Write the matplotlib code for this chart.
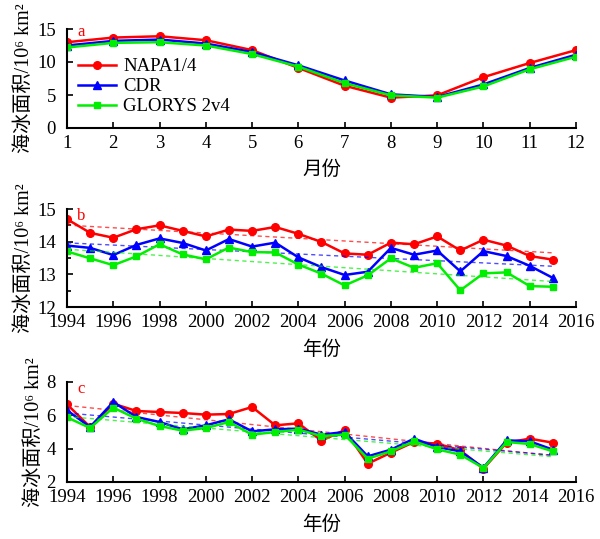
import numpy as np
import matplotlib
matplotlib.use("Agg")
import matplotlib.pyplot as plt

plt.rcParams['font.family'] = ['Liberation Serif', 'Noto Sans CJK SC']

# panel a: monthly climatology
months = np.arange(1, 13)
napa_month = [13.0, 13.7, 13.9, 13.3, 11.8, 9.1, 6.4, 4.6, 4.95, 7.7, 9.85, 11.8]
cdr_month = [12.5, 13.2, 13.4, 12.8, 11.5, 9.5, 7.2, 5.1, 4.7, 6.6, 9.1, 11.1]
glorys_month = [12.2, 12.9, 13.0, 12.5, 11.2, 9.3, 6.8, 4.95, 4.6, 6.3, 8.9, 10.8]

# panel b: yearly (first series of annual values)
years = np.arange(1994, 2016)
napa_b = [14.69, 14.27, 14.12, 14.38, 14.50, 14.33, 14.16, 14.37, 14.33, 14.45, 14.24,
          13.99, 13.64, 13.60, 13.97, 13.92, 14.16, 13.73, 14.06, 13.88, 13.56, 13.45]
cdr_b = [13.88, 13.81, 13.59, 13.90, 14.10, 13.96, 13.73, 14.08, 13.85, 13.97, 13.52,
         13.22, 12.98, 13.08, 13.81, 13.60, 13.73, 13.09, 13.71, 13.56, 13.26, 12.89]
glorys_b = [13.70, 13.49, 13.28, 13.55, 13.92, 13.61, 13.46, 13.82, 13.68, 13.67, 13.30,
            13.02, 12.66, 12.97, 13.49, 13.20, 13.34, 12.51, 13.03, 13.06, 12.64, 12.62]

# panel c: yearly (second series)
napa_c = [6.66, 5.30, 6.70, 6.26, 6.20, 6.14, 6.04, 6.08, 6.50, 5.40, 5.52,
          4.48, 5.12, 3.10, 3.76, 4.40, 4.30, 3.90, 2.80, 4.36, 4.60, 4.36]
cdr_c = [6.30, 5.30, 6.80, 5.90, 5.60, 5.16, 5.40, 5.76, 5.04, 5.16, 5.20,
         4.84, 5.00, 3.54, 3.94, 4.60, 4.10, 3.84, 2.86, 4.50, 4.44, 3.94]
glorys_c = [5.88, 5.24, 6.46, 5.80, 5.36, 5.08, 5.24, 5.60, 4.84, 5.00, 5.14,
            4.76, 4.84, 3.40, 3.84, 4.44, 3.96, 3.64, 2.84, 4.40, 4.28, 3.84]

labels = ['NAPA1/4', 'CDR', 'GLORYS 2v4']
colors = ['#ff0000', '#0000ff', '#00ee00']
markers = ['o', '^', 's']
msizes = [5.5, 6, 4.5]

ylab = u'海冰面积/10\u2076 km\u00b2'

fig = plt.figure(figsize=(6.0, 5.39), dpi=100)
W = 509 / 600.0
L = 67 / 600.0
ax_a = fig.add_axes([L, 1 - 128 / 539.0, W, 99 / 539.0])
ax_b = fig.add_axes([L, 1 - 307 / 539.0, W, 98 / 539.0])
ax_c = fig.add_axes([L, 1 - 482 / 539.0, W, 100 / 539.0])


def style(ax):
    for s in ['top', 'right']:
        ax.spines[s].set_visible(False)
    for s in ['left', 'bottom']:
        ax.spines[s].set_linewidth(1.5)
    ax.tick_params(direction='in', labelsize=13.5, width=1.2, length=4)
    ax.tick_params(axis='y', pad=8)
    ax.tick_params(axis='x', pad=5)
    ax.tick_params(which='minor', direction='in', width=1.2, length=3)
    ax.set_ylabel(ylab, fontsize=14.5, labelpad=2)


# a
for data, lab, c, m, ms in zip([napa_month, cdr_month, glorys_month], labels, colors, markers, msizes):
    ax_a.plot(months, data, color=c, marker=m, markersize=ms, lw=1.8, label=lab)
ax_a.set_xlim(1, 12)
ax_a.set_ylim(0, 15)
ax_a.set_xticks(months)
ax_a.set_yticks([0, 5, 10, 15])
style(ax_a)
ax_a.set_xlabel(u'月份', fontsize=14, labelpad=6)
ax_a.legend(loc='upper left', bbox_to_anchor=(0.0, 0.82), frameon=False, fontsize=13.5,
            handlelength=2.0, labelspacing=0.15, handletextpad=0.4, borderaxespad=0.2)
ax_a.text(0.02, 0.97, 'a', color='red', fontsize=12, transform=ax_a.transAxes, va='center')

# b, c
for ax, sets, ylim, yt, letter in [
        (ax_b, [napa_b, cdr_b, glorys_b], (12, 15), [12, 13, 14, 15], 'b'),
        (ax_c, [napa_c, cdr_c, glorys_c], (2, 8), [2, 4, 6, 8], 'c')]:
    for data, lab, c, m, ms in zip(sets, labels, colors, markers, msizes):
        ax.plot(years, data, color=c, marker=m, markersize=ms, lw=1.8)
        k, b = np.polyfit(years, data, 1)
        ax.plot(years, k * years + b, color=c, lw=1.0, ls=(0, (3, 2.5)), alpha=0.7)
    ax.set_xlim(1994, 2016)
    ax.set_ylim(*ylim)
    ax.set_xticks(np.arange(1994, 2017, 2))
    ax.set_yticks(yt)
    style(ax)
    ax.set_xlabel(u'年份', fontsize=14, labelpad=7)
    ax.text(0.02, 0.93, letter, color='red', fontsize=12, transform=ax.transAxes, va='center')

ax_b.set_yticks([12.5, 13.5, 14.5], minor=True)

fig.savefig('out.png', dpi=100)
